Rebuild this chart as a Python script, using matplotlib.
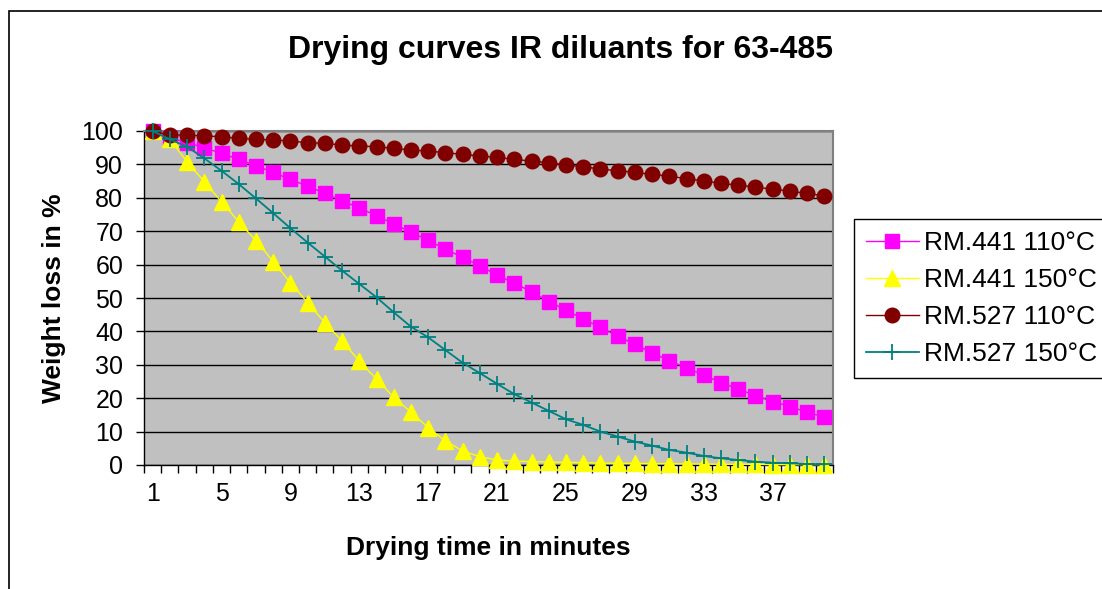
import matplotlib.pyplot as plt
from matplotlib.patches import Rectangle
import numpy as np

plt.rcParams['font.family'] = ['Liberation Sans', 'DejaVu Sans']

minutes = np.arange(1, 41)
tick_labels = ['1', '5', '9', '13', '17', '21', '25', '29', '33', '37']

rm441_110 = [100, 98, 96.5, 95, 93.3, 91.5, 89.6, 87.6, 85.5, 83.5,
             81.3, 79.1, 77, 74.6, 72.2, 69.7, 67.3, 64.6, 62.2, 59.6,
             56.9, 54.4, 51.9, 48.9, 46.4, 43.7, 41.2, 38.6, 36.1, 33.6,
             31.2, 29.1, 26.9, 24.7, 22.7, 20.8, 19.0, 17.5, 15.8, 14.3]
rm441_150 = [100, 97.5, 90.8, 84.8, 78.8, 72.8, 67.2, 60.9, 54.6, 48.6,
             42.6, 37.1, 31.1, 25.7, 20.3, 15.8, 11.2, 7.2, 4.2, 2.5,
             1.5, 1.2, 1.0, 0.9, 0.8, 0.7, 0.6, 0.5, 0.5, 0.4,
             0.4, 0.3, 0.3, 0.2, 0.2, 0.2, 0.1, 0.1, 0.1, 0.1]
rm527_110 = [100, 98.8, 98.8, 98.5, 98.3, 97.8, 97.5, 97.3, 97.0, 96.5,
             96.3, 95.8, 95.5, 95.3, 94.8, 94.3, 94.0, 93.5, 93.0, 92.5,
             92.1, 91.5, 91.0, 90.5, 89.8, 89.3, 88.6, 88.1, 87.6, 87.0,
             86.5, 85.7, 85.1, 84.3, 83.8, 83.2, 82.6, 82.0, 81.3, 80.6]
rm527_150 = [100, 97.5, 95.3, 91.8, 88.1, 84.1, 79.8, 75.4, 70.9, 66.6,
             62.4, 58.2, 54.2, 50.2, 45.7, 41.4, 38.2, 34.4, 30.6, 27.5,
             24.3, 21.2, 18.7, 16.2, 13.7, 12.0, 10.0, 8.5, 7.0, 5.8,
             4.5, 3.7, 2.7, 2.0, 1.5, 1.0, 0.7, 0.5, 0.3, 0.2]

W, H = 1102, 589
fig = plt.figure(figsize=(W / 100, H / 100), dpi=100)

# outer chart border (runs off the right and bottom edges)
fig.patches.append(Rectangle((9 / W, -0.05), 1.2, 1 - 11 / H + 0.05,
                             transform=fig.transFigure, fill=False,
                             ec='black', lw=1.2))

ax = fig.add_axes([144 / W, 1 - 465 / H, 689 / W, 334 / H])
ax.set_facecolor('#C0C0C0')

ax.plot(minutes, rm441_110, color='#FF00FF', lw=1, marker='s', ms=10,
        label='RM.441 110°C', clip_on=False, zorder=3)
ax.plot(minutes, rm441_150, color='#FFFF00', lw=1, marker='^', ms=11,
        label='RM.441 150°C', clip_on=False, zorder=3)
ax.plot(minutes, rm527_110, color='#800000', lw=1, marker='o', ms=10.5,
        label='RM.527 110°C', clip_on=False, zorder=3)
ax.plot(minutes, rm527_150, color='#008080', lw=1.3, marker='+', ms=11,
        mew=1.3, label='RM.527 150°C', clip_on=False, zorder=4)

ax.set_xlim(0.5, 40.5)
ax.set_ylim(0, 100)
ax.set_yticks(np.arange(0, 101, 10))
ax.yaxis.grid(True, color='black', lw=1)
ax.set_axisbelow(True)
ax.set_xticks(np.arange(1, 41, 4), labels=tick_labels)
ax.set_xticks(np.arange(0.5, 41, 1), minor=True)
ax.tick_params(axis='x', which='major', length=0, pad=12, labelsize=18)
ax.tick_params(axis='x', which='minor', length=6, width=1, direction='out')
ax.tick_params(axis='y', length=6, width=1, direction='out', pad=9,
               labelsize=18)

for side in ['top', 'right']:
    ax.spines[side].set_color('#808080')
    ax.spines[side].set_linewidth(1.5)
for side in ['left', 'bottom']:
    ax.spines[side].set_color('black')
    ax.spines[side].set_linewidth(1)

ax.set_xlabel('Drying time in minutes', fontsize=19, fontweight='bold',
              labelpad=22)
ax.set_ylabel('Weight loss in %', fontsize=19, fontweight='bold', labelpad=11)
fig.text(560 / W, 1 - 50 / H, 'Drying curves IR diluants for 63-485',
         ha='center', va='center', fontsize=23, fontweight='bold')

leg = ax.legend(loc='upper left', bbox_to_anchor=(854 / W, 1 - 219 / H),
                bbox_transform=fig.transFigure, borderaxespad=0,
                fancybox=False, edgecolor='black', framealpha=1,
                fontsize=19, handlelength=2.0, labelspacing=0.5,
                handletextpad=0.2, borderpad=0.45)
leg.get_frame().set_linewidth(1)

fig.savefig('out.png', dpi=100)
